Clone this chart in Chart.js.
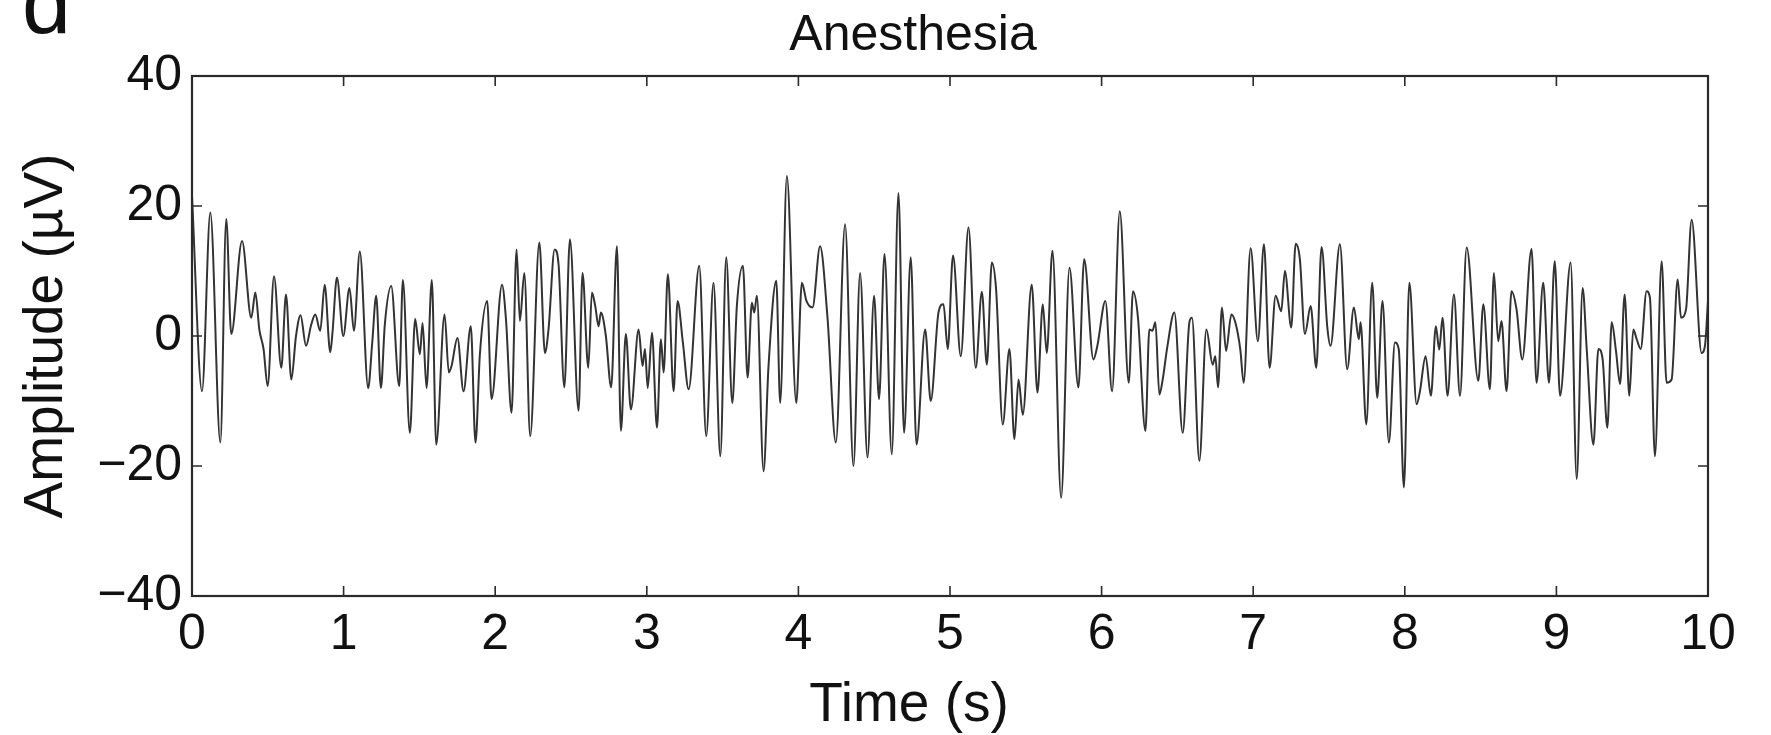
<!DOCTYPE html>
<html>
<head>
<meta charset="utf-8">
<script src="https://cdn.jsdelivr.net/npm/chart.js@4.4.1/dist/chart.umd.min.js"></script>
<style>
  html, body { margin: 0; padding: 0; background: #fff; }
  #wrap { width: 1771px; height: 735px; position: relative; }
</style>
</head>
<body>
<div id="wrap"><canvas id="eegChart"></canvas></div>
<script>
// sample times (s) and amplitudes (uV)
const timeSec = [
  0.000, 0.066, 0.121, 0.187, 0.226, 0.259, 0.330, 0.391, 0.418, 0.444, 0.472, 0.499, 0.541, 0.589, 0.620, 0.655,
  0.686, 0.716, 0.752, 0.787, 0.813, 0.846, 0.875, 0.912, 0.927, 0.956,
  0.998, 1.039, 1.068, 1.107, 1.162, 1.189, 1.215, 1.246, 1.272, 1.314, 1.367, 1.391, 1.437, 1.472, 1.503, 1.521,
  1.547, 1.582, 1.611, 1.666, 1.694, 1.712, 1.751, 1.791, 1.839, 1.870, 1.899, 1.947, 1.976,
  2.045, 2.071, 2.108, 2.141, 2.163, 2.192, 2.231, 2.291, 2.328, 2.352, 2.392, 2.418, 2.456, 2.493, 2.550, 2.576,
  2.614, 2.638, 2.660, 2.682, 2.697, 2.730, 2.765, 2.803, 2.829, 2.862, 2.895, 2.946, 2.972, 2.988, 3.006,
  3.034, 3.067, 3.093, 3.111, 3.139, 3.177, 3.203, 3.238, 3.276, 3.346, 3.392, 3.440, 3.485, 3.524, 3.564, 3.594,
  3.634, 3.665, 3.693, 3.709, 3.726, 3.770, 3.803, 3.854, 3.880, 3.924, 3.986,
  4.023, 4.053, 4.093, 4.143, 4.192, 4.247, 4.308, 4.363, 4.407, 4.456, 4.499, 4.532, 4.568, 4.616, 4.660, 4.697,
  4.741, 4.779, 4.836, 4.873, 4.924, 4.957, 4.985,
  5.020, 5.071, 5.122, 5.170, 5.210, 5.243, 5.276, 5.304, 5.348, 5.392, 5.425, 5.452, 5.480, 5.539, 5.577, 5.612,
  5.638, 5.676, 5.733, 5.788, 5.847, 5.885, 5.946, 5.972,
  6.025, 6.069, 6.120, 6.179, 6.207, 6.240, 6.289, 6.315, 6.335, 6.355, 6.381, 6.403, 6.432, 6.480, 6.535, 6.579,
  6.596, 6.645, 6.691, 6.733, 6.750, 6.768, 6.794, 6.821, 6.856, 6.882, 6.915, 6.937, 6.983,
  7.031, 7.071, 7.108, 7.148, 7.185, 7.209, 7.251, 7.280, 7.308, 7.341, 7.379, 7.416, 7.451, 7.489, 7.510, 7.572,
  7.620, 7.664, 7.697, 7.708, 7.746, 7.785, 7.818, 7.853, 7.895, 7.935, 7.960, 7.994,
  8.030, 8.078, 8.100, 8.137, 8.172, 8.205, 8.227, 8.249, 8.282, 8.324, 8.364, 8.408, 8.485, 8.518, 8.561, 8.588,
  8.616, 8.638, 8.671, 8.704, 8.737, 8.775, 8.836, 8.869, 8.913, 8.951, 8.989,
  9.024, 9.094, 9.134, 9.173, 9.200, 9.244, 9.277, 9.305, 9.336, 9.365, 9.393, 9.420, 9.450, 9.481, 9.507, 9.530,
  9.556, 9.595, 9.617, 9.650, 9.694, 9.727, 9.760, 9.800, 9.822, 9.855, 9.892, 9.958, 9.980, 10.000
];
const amplitudeUV = [
  21.5, -8.5, 19.0, -16.4, 18.0, 0.3, 14.6, 2.8, 6.7, 1.0, -2.0, -7.7, 9.2, -4.9, 6.4, -6.7,
  0.0, 3.2, -1.5, 1.8, 3.3, 0.8, 7.9, -2.5, 0.6, 9.0,
  0.0, 7.4, 0.8, 13.0, -8.0, -1.0, 6.2, -8.0, 1.8, 7.7, -7.7, 8.6, -14.9, 2.6, -2.8, 2.0,
  -8.0, 8.6, -16.7, 3.3, -5.6, -4.6, -0.3, -8.5, 1.5, -16.4, -2.8, 5.4, -9.7,
  7.9, 2.6, -11.8, 13.3, 2.3, 9.7, -15.4, 14.4, -2.6, 1.1, 13.3, 11.0, -7.9, 14.9, -11.5, 9.7,
  -4.9, 6.7, 4.6, 1.5, 3.6, 0.0, -7.9, 13.8, -14.6, 0.3, -11.3, 1.0, -4.6, -2.0, -8.0,
  0.5, -14.1, -0.5, -5.6, 9.5, -8.5, 5.4, -1.0, -8.2, 10.8, -15.4, 8.2, -18.5, 12.1, -10.3, 4.6,
  10.8, -6.4, 5.1, 3.6, 6.2, -20.8, -4.6, 8.5, -10.3, 24.6, -10.3,
  8.2, 5.4, 4.4, 13.8, 2.8, -16.4, 17.2, -20.0, 9.7, -18.7, 6.2, -9.7, 12.6, -18.2, 22.0, -14.9,
  12.1, -16.7, 1.0, -10.0, 3.6, 4.9, -2.0,
  12.4, -3.1, 16.7, -4.9, 6.8, -4.4, 11.3, 7.2, -13.6, -2.0, -15.9, -6.7, -12.1, 7.9, -8.7, 4.9,
  -2.6, 13.1, -24.9, 10.5, -7.9, 11.8, -3.6, -1.5,
  5.4, -8.5, 19.2, -7.2, 6.9, 2.8, -14.6, 1.0, 0.8, 2.1, -9.0, -6.7, -1.9, 3.6, -14.9, 2.1,
  2.8, -19.2, 1.0, -4.4, -3.1, -7.9, 4.4, -2.3, 3.3, 2.1, -2.1, -7.2, 13.5,
  -0.8, 14.1, -4.9, 6.2, 3.8, 10.0, 1.3, 14.2, 11.8, 0.3, 4.6, -4.9, 13.7, 1.3, -1.5, 14.1,
  -5.1, 4.4, -0.5, 2.1, -13.6, 8.2, -9.5, 5.4, -16.4, -1.0, -2.0, -23.3,
  8.2, -10.5, -8.5, -3.1, -9.2, 1.5, -2.1, 2.8, -9.2, 6.4, -9.2, 13.6, -6.9, 4.9, -8.2, 9.7,
  -0.8, 2.3, -8.5, 6.9, 4.1, -3.6, 13.4, -7.2, 8.2, -7.2, 11.5,
  -9.2, 11.3, -22.0, 7.4, -2.0, -16.7, -2.0, -3.6, -14.1, 2.1, -2.3, -7.4, 6.4, -9.2, 1.0, -0.5,
  -2.0, 6.9, 5.9, -18.5, 11.5, -7.2, -6.7, 8.7, 2.8, 4.1, 17.9, -2.6, -1.5, 5.4
];
const xTickValues = [0, 1, 2, 3, 4, 5, 6, 7, 8, 9, 10];
const yTickValues = [-40, -20, 0, 20, 40];

const FONT = '"Liberation Sans", Helvetica, Arial, sans-serif';
const INK = "#111";

const eegPoints = timeSec.map((t, i) => ({ x: t, y: amplitudeUV[i] }));

// box, inward ticks on all four sides, and the text around the axes
const framePlugin = {
  id: "frame",
  afterDraw(chart) {
    const { ctx, chartArea } = chart;
    const { left, right, top, bottom } = chartArea;
    const xs = chart.scales.x;
    const ys = chart.scales.y;
    const tick = 10;
    ctx.save();
    ctx.strokeStyle = "#2a2a2a";
    ctx.lineWidth = 2.2;
    ctx.strokeRect(left, top, right - left, bottom - top);
    ctx.lineWidth = 1.6;
    ctx.beginPath();
    xTickValues.forEach((v) => {
      const px = xs.getPixelForValue(v);
      ctx.moveTo(px, bottom); ctx.lineTo(px, bottom - tick);
      ctx.moveTo(px, top); ctx.lineTo(px, top + tick);
    });
    yTickValues.forEach((v) => {
      const py = ys.getPixelForValue(v);
      ctx.moveTo(left, py); ctx.lineTo(left + tick, py);
      ctx.moveTo(right, py); ctx.lineTo(right - tick, py);
    });
    ctx.stroke();

    ctx.fillStyle = INK;
    ctx.textAlign = "center";
    ctx.textBaseline = "middle";
    ctx.font = "50px " + FONT;
    ctx.fillText("Anesthesia", (left + right) / 2 - 37, 36);
    ctx.font = "55px " + FONT;
    ctx.fillText("Time (s)", (left + right) / 2 - 41, 706);
    ctx.save();
    ctx.translate(47, (top + bottom) / 2);
    ctx.rotate(-Math.PI / 2);
    ctx.fillText("Amplitude (\u00b5V)", 0, 0);
    ctx.restore();
    ctx.textAlign = "left";
    ctx.textBaseline = "alphabetic";
    ctx.font = "88px " + FONT;
    ctx.fillText("d", 22, 33);
    ctx.restore();
  }
};

new Chart(document.getElementById("eegChart"), {
  type: "line",
  data: {
    datasets: [{
      data: eegPoints,
      borderColor: "#333",
      borderWidth: 2,
      pointRadius: 0,
      fill: false,
      cubicInterpolationMode: "monotone",
    }],
  },
  options: {
    responsive: true,
    maintainAspectRatio: false,
    animation: false,
    devicePixelRatio: 1,
    layout: { padding: { left: 0, right: 63, top: 76, bottom: 0 } },
    plugins: {
      legend: { display: false },
      tooltip: { enabled: false },
    },
    scales: {
      x: {
        type: "linear",
        min: 0,
        max: 10,
        afterBuildTicks: (scale) => {
          scale.ticks = xTickValues.map((v) => ({ value: v }));
        },
        ticks: { color: INK, font: { family: FONT, size: 50 }, padding: 9, maxRotation: 0 },
        grid: { display: false, drawTicks: false },
        border: { display: false },
        afterFit: (scale) => { scale.height = 139; },
      },
      y: {
        min: -40,
        max: 40,
        afterBuildTicks: (scale) => {
          scale.ticks = yTickValues.map((v) => ({ value: v }));
        },
        ticks: {
          color: INK,
          font: { family: FONT, size: 50 },
          padding: 10,
          callback: (v) => (v < 0 ? "\u2212" + Math.abs(v) : String(v)),
        },
        grid: { display: false, drawTicks: false },
        border: { display: false },
        afterFit: (scale) => { scale.width = 192; },
      },
    },
  },
  plugins: [framePlugin],
});
</script>
</body>
</html>
